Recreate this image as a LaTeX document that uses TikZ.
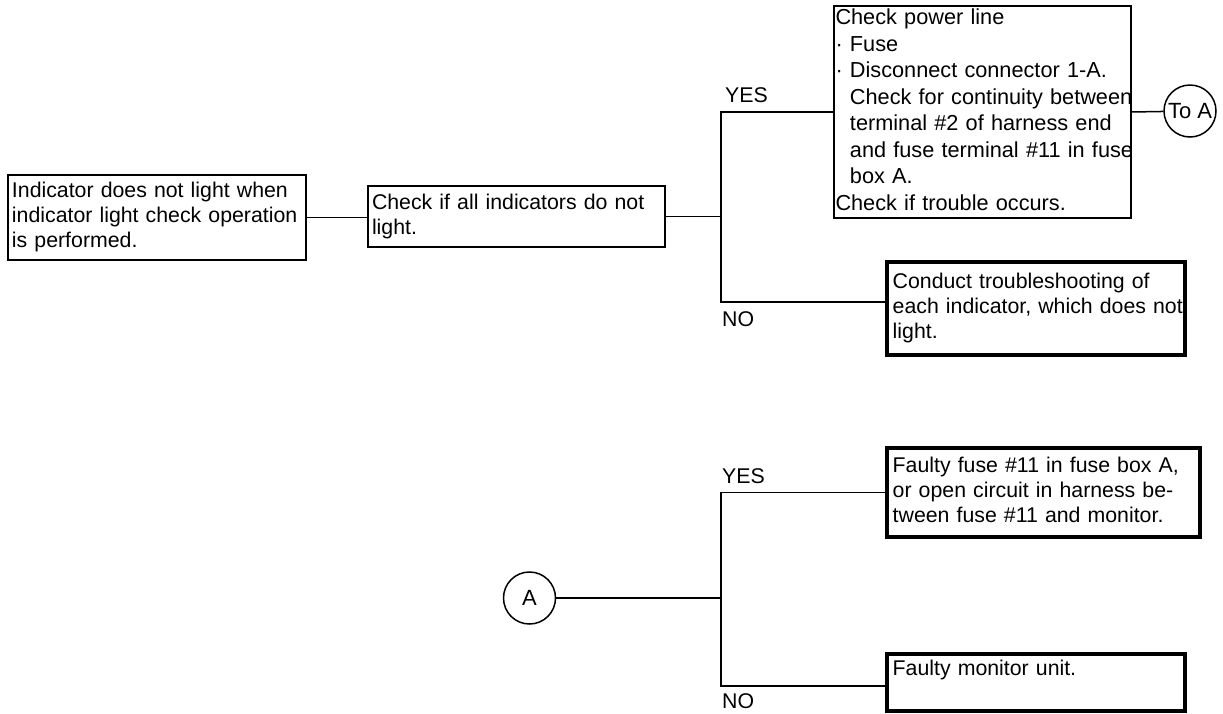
\documentclass[tikz,border=0pt]{standalone}
\usepackage{fontspec}
\setmainfont{Liberation Sans}
\usetikzlibrary{positioning}
\newcommand{\boxlines}[1]{\begin{tabular}{@{}l@{}}#1\end{tabular}}
\newcommand{\bulind}{\hphantom{·\ }}
\tikzset{
  box/.style={draw, line width=1.8pt, anchor=north west, align=left, outer sep=0pt,
    inner xsep=4pt, inner ysep=0pt, font=\fontsize{21.3}{25}\selectfont},
  endbox/.style={box, line width=4.2pt, inner xsep=5.7pt},
  conn/.style={draw, circle, line width=1.5pt, minimum size=52pt, inner sep=0pt,
    font=\fontsize{22}{25}\selectfont},
  lbl/.style={anchor=base west, inner sep=0pt, font=\fontsize{21.3}{25}\selectfont},
  wire/.style={line width=1.5pt}
}
\begin{document}
\begin{tikzpicture}[x=1pt, y=-1pt]
    \useasboundingbox (0,0) rectangle (1223,713);

    % Первая проверка
    \node[box, text width=290pt, minimum height=85pt] (start) at (8,175)
        {\boxlines{Indicator does not light when\\indicator light check operation\\is performed.}};
    \node[box, text width=289pt, minimum height=61pt] (check) at (368,186)
        {\boxlines{Check if all indicators do not\\light.}};
    \node[box, inner xsep=1.5pt, text width=294pt, minimum height=210pt,
        font=\fontsize{21.7}{26.5}\selectfont] (power) at (834,6)
        {\boxlines{Check power line\\
        · Fuse\\
        · Disconnect connector 1-A.\\
        \bulind Check for continuity between\\
        \bulind terminal \#2 of harness end\\
        \bulind and fuse terminal \#11 in fuse\\
        \bulind box A.\\
        Check if trouble occurs.}};
    \node[endbox, text width=286.6pt, minimum height=93pt] (each) at (887,262)
        {\boxlines{Conduct troubleshooting of\\each indicator, which does not\\light.}};
    \node[conn] (toa) at (1190,111) {To A};

    \coordinate (yes1) at (721,111);
    \coordinate (no1) at (721,302);
    \draw[wire] (start.east) -- (start.east -| check.west);
    \draw[wire] (check.east) -- (check.east -| yes1);
    \draw[wire] (power.west) -| (no1) -- (no1 -| each.west);
    \draw[wire] (power.east) -- (toa);
    \node[lbl] (yeslbl1) at (725,102.5) {YES};
    \node[lbl] (nolbl1) at (722,326) {NO};

    % Переход A
    \node[conn] (ca) at (529.5,598) {A};
    \node[endbox, text width=301.6pt, minimum height=89pt] (fuse) at (887,448)
        {\boxlines{Faulty fuse \#11 in fuse box A,\\or open circuit in harness be-\\tween fuse \#11 and monitor.}};
    \node[endbox, text width=286.6pt, minimum height=57pt] (mon) at (887,654)
        {\boxlines{Faulty monitor unit.\\ ~}};

    \coordinate (yes2) at (721,492);
    \coordinate (no2) at (721,686);
    \draw[wire] (ca) -- (ca -| yes2);
    \draw[wire] (fuse.west) -| (no2) -- (no2 -| mon.west);
    \node[lbl] (yeslbl2) at (722,483) {YES};
    \node[lbl] (nolbl2) at (722,708) {NO};
\end{tikzpicture}
\end{document}
